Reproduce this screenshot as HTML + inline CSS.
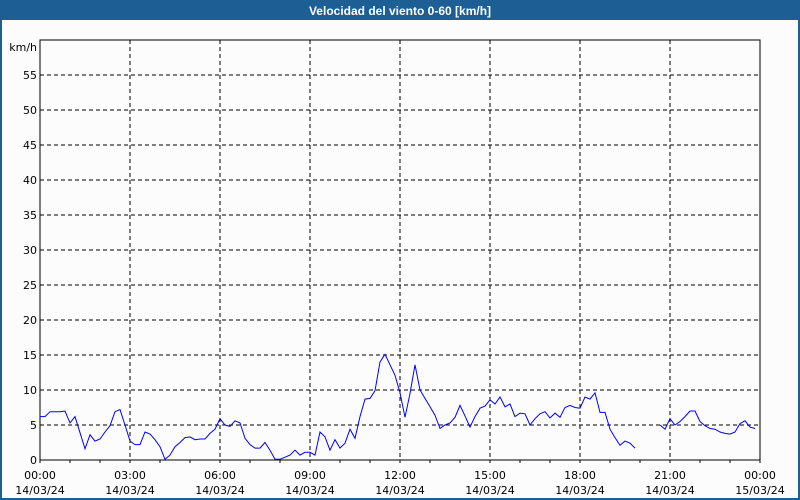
<!DOCTYPE html>
<html><head><meta charset="utf-8"><style>
body{margin:0;background:#fff;}
#wrap{position:relative;width:800px;height:500px;overflow:hidden;font-family:"DejaVu Sans","Liberation Sans",sans-serif;}
</style></head><body>
<div id="wrap">
<svg id="chart" width="800" height="500" xmlns="http://www.w3.org/2000/svg">
<rect x="0" y="0" width="800" height="500" fill="#1d5f95"/>
<rect x="2" y="20" width="796" height="478" fill="#fcfcfc"/>
<text x="400" y="15" fill="#fff" font-size="12" font-weight="bold" text-anchor="middle" font-family="Liberation Sans, sans-serif">Velocidad del viento 0-60 [km/h]</text>
<g id="grid"></g>
<g id="axes"></g>
<path id="series" fill="none" stroke="#0000ff" stroke-width="1"/>
</svg>
</div>
<script>
const yTicks=[0,5,10,15,20,25,30,35,40,45,50,55];
const xTimeLabels=["00:00","03:00","06:00","09:00","12:00","15:00","18:00","21:00","00:00"];
const xDateLabels=["14/03/24","14/03/24","14/03/24","14/03/24","14/03/24","14/03/24","14/03/24","14/03/24","15/03/24"];
const intervalMinutes=10;
const windSpeed=[6.2,6.2,6.9,6.9,6.9,7.0,5.3,6.2,3.9,1.6,3.6,2.7,3.0,4.0,4.9,6.9,7.2,5.0,2.7,2.2,2.2,4.0,3.7,2.9,1.9,0.1,0.7,1.9,2.5,3.2,3.3,2.9,3.0,3.0,3.8,4.4,5.9,5.0,4.8,5.6,5.3,3.1,2.2,1.7,1.7,2.5,1.4,0.1,0.1,0.4,0.7,1.4,0.7,1.1,1.1,0.7,4.0,3.3,1.4,2.9,1.7,2.4,4.4,3.1,6.2,8.7,8.8,9.9,14.0,15.1,13.6,12.1,9.6,6.1,9.5,13.6,10.0,8.8,7.6,6.4,4.5,5.0,5.3,6.1,7.8,6.3,4.7,6.2,7.4,7.7,8.6,8.0,9.0,7.6,8.0,6.2,6.7,6.6,5.0,5.9,6.6,6.9,6.0,6.7,6.1,7.5,7.8,7.5,7.4,9.0,8.7,9.6,6.8,6.8,4.4,3.2,2.1,2.7,2.4,1.7,null,null,null,null,5.0,4.4,5.9,5.0,5.5,6.2,7.0,7.0,5.5,4.9,4.5,4.4,4.0,3.8,3.7,4.0,5.2,5.6,4.7,4.5];
const X0=40,X1=760,Y0=460,Y1=40,YMAX=60;
const xs=m=>X0+(X1-X0)*m/1440;
const ys=v=>Y0-(Y0-Y1)*v/YMAX;
const NS="http://www.w3.org/2000/svg";
function mk(tag,attrs,parent){const e=document.createElementNS(NS,tag);for(const k in attrs)e.setAttribute(k,attrs[k]);parent.appendChild(e);return e;}
const grid=document.getElementById('grid'),axes=document.getElementById('axes');
yTicks.forEach(v=>{
  if(v>0){const l=mk('line',{x1:X0,x2:X1,y1:ys(v),y2:ys(v),stroke:'#000','stroke-dasharray':'4,3'},grid);
  
  }
  const t=mk('text',{x:37,y:ys(v)+4,'font-size':11,'text-anchor':'end',fill:'#000'},axes);t.textContent=v;
  
  
});
xTimeLabels.forEach((lab,i)=>{
  const x=xs(i*180);
  if(i>0&&i<xTimeLabels.length-1){const l=mk('line',{x1:x,x2:x,y1:Y1,y2:Y0,stroke:'#000','stroke-dasharray':'4,3'},grid);
  
  }
  const t=mk('text',{x:x,y:479,'font-size':11,'text-anchor':'middle',fill:'#000'},axes);t.textContent=lab;
  
  
  const d=mk('text',{x:x,y:494,'font-size':11,'text-anchor':'middle',fill:'#000'},axes);d.textContent=xDateLabels[i];
  
  
});
for(let h=0;h<=24;h++){const x=xs(h*60);const l=mk('line',{x1:x,x2:x,y1:Y0,y2:Y0+3,stroke:'#000'},axes);
  
  }
const box=mk('rect',{x:X0,y:Y1,width:X1-X0,height:Y0-Y1,fill:'none',stroke:'#000'},axes);


const unit=mk('text',{x:37,y:51,'font-size':11,'text-anchor':'end',fill:'#000'},axes);unit.textContent='km/h';


let d='',pen=false;
windSpeed.forEach((v,i)=>{
  if(v===null){pen=false;return;}
  d+=(pen?'L':'M')+xs(i*intervalMinutes).toFixed(1)+' '+ys(v).toFixed(1)+' ';pen=true;
});
document.getElementById('series').setAttribute('d',d);
</script>
</body></html>
